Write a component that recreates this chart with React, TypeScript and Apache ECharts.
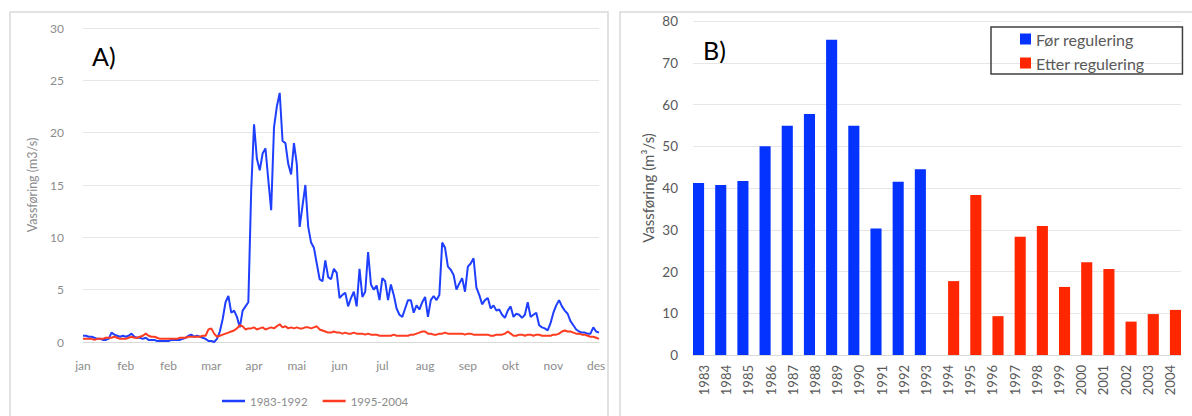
import React, { useEffect, useRef } from 'react';
import * as echarts from 'echarts';

const FONT = 'Lato, "Open Sans", sans-serif';

// Panel A: daily mean discharge (every 2nd day), m3/s
const monthLabels = ['jan', 'feb', 'feb', 'mar', 'apr', 'mai', 'jun', 'jul', 'aug', 'sep', 'okt', 'nov', 'des'];
const flow1983to1992 = [
  0.6, 0.6, 0.5, 0.5, 0.4, 0.3, 0.3, 0.2, 0.2, 0.3,
  0.9, 0.7, 0.6, 0.5, 0.6, 0.5, 0.6, 0.8, 0.5, 0.4,
  0.4, 0.3, 0.4, 0.2, 0.2, 0.2, 0.1, 0.1, 0.1, 0.1,
  0.1, 0.2, 0.2, 0.2, 0.2, 0.3, 0.4, 0.6, 0.7, 0.5,
  0.6, 0.5, 0.4, 0.3, 0.1, 0.1, 0.0, 0.3, 1.0, 2.2,
  3.8, 4.4, 2.8, 3.0, 2.4, 1.4, 3.0, 3.4, 3.8, 14.5,
  20.8, 17.5, 16.4, 18.0, 18.5, 15.5, 12.6, 20.5, 22.5, 23.8,
  19.2, 19.0, 17.0, 16.0, 19.0, 17.0, 11.0, 13.0, 15.0, 11.0,
  9.5, 9.0, 7.5, 6.0, 5.8, 7.8, 6.2, 6.0, 7.0, 6.6,
  4.2, 4.5, 4.7, 3.4, 4.2, 4.8, 3.4, 7.0, 4.3, 4.8,
  8.6, 5.5, 5.0, 5.4, 4.0, 6.1, 5.8, 4.0, 5.5, 4.5,
  3.2, 2.6, 2.4, 3.2, 4.0, 4.0, 2.8, 3.5, 3.1, 3.8,
  4.3, 2.4, 4.0, 4.4, 4.0, 4.5, 9.5, 9.0, 7.2, 6.9,
  6.4, 5.0, 5.6, 6.1, 4.8, 7.2, 7.5, 8.0, 5.2, 4.5,
  3.6, 4.0, 4.2, 3.2, 3.5, 3.0, 3.1, 2.6, 2.3, 3.0,
  3.4, 2.4, 2.7, 2.6, 2.3, 2.6, 3.8, 2.4, 2.6, 2.8,
  1.6, 1.4, 1.3, 1.1, 1.8, 2.8, 3.5, 4.0, 3.4, 3.0,
  2.7, 2.0, 1.6, 1.2, 1.0, 0.9, 0.9, 0.8, 0.8, 1.4,
  1.0, 0.9,
];
const flow1995to2004 = [
  0.3, 0.3, 0.3, 0.3, 0.2, 0.3, 0.3, 0.3, 0.4, 0.4,
  0.4, 0.5, 0.4, 0.3, 0.3, 0.3, 0.4, 0.5, 0.4, 0.4,
  0.5, 0.6, 0.8, 0.6, 0.5, 0.5, 0.4, 0.3, 0.3, 0.3,
  0.3, 0.3, 0.3, 0.3, 0.4, 0.4, 0.4, 0.5, 0.5, 0.5,
  0.5, 0.5, 0.6, 0.6, 1.2, 1.3, 0.8, 0.5, 0.6, 0.7,
  0.8, 0.9, 1.0, 1.1, 1.3, 1.6, 1.5, 1.2, 1.3, 1.3,
  1.4, 1.2, 1.3, 1.4, 1.2, 1.3, 1.4, 1.3, 1.5, 1.7,
  1.4, 1.5, 1.3, 1.4, 1.3, 1.4, 1.3, 1.3, 1.4, 1.4,
  1.3, 1.4, 1.5, 1.2, 1.1, 1.0, 0.9, 0.9, 1.0, 0.9,
  0.9, 0.8, 0.9, 0.8, 0.8, 0.9, 0.8, 0.8, 0.8, 0.7,
  0.8, 0.7, 0.7, 0.7, 0.6, 0.6, 0.6, 0.6, 0.6, 0.7,
  0.6, 0.6, 0.6, 0.6, 0.6, 0.7, 0.7, 0.8, 0.9, 1.0,
  1.0, 0.8, 0.8, 0.7, 0.7, 0.8, 0.8, 0.9, 0.8, 0.8,
  0.8, 0.8, 0.8, 0.8, 0.7, 0.8, 0.8, 0.7, 0.7, 0.7,
  0.7, 0.7, 0.7, 0.6, 0.6, 0.7, 0.7, 0.7, 0.8, 1.0,
  0.8, 0.6, 0.6, 0.7, 0.7, 0.6, 0.7, 0.7, 0.6, 0.7,
  0.7, 0.6, 0.6, 0.6, 0.6, 0.7, 0.7, 0.8, 1.0, 1.1,
  1.0, 1.0, 0.9, 0.8, 0.8, 0.7, 0.7, 0.6, 0.5, 0.5,
  0.4, 0.3,
];
const dayIndex = flow1983to1992.map((_, i) => String(i));

// Panel B: annual maximum discharge
const years = ['1983', '1984', '1985', '1986', '1987', '1988', '1989', '1990', '1991', '1992', '1993',
  '1994', '1995', '1996', '1997', '1998', '1999', '2000', '2001', '2002', '2003', '2004'];
const beforeRegulation = [41.2, 40.7, 41.7, 50.0, 54.9, 57.7, 75.5, 54.9, 30.3, 41.5, 44.5,
  null, null, null, null, null, null, null, null, null, null, null];
const afterRegulation = [null, null, null, null, null, null, null, null, null, null, null,
  17.7, 38.3, 9.3, 28.3, 30.9, 16.3, 22.2, 20.6, 8.0, 9.8, 10.8];

const BLUE = '#0433FF';
const RED = '#FF2600';

export default function App() {
  const ref = useRef<HTMLDivElement>(null);
  useEffect(() => {
    if (!ref.current) return;
    const chart = echarts.init(ref.current, null, { renderer: 'svg' });
    const greyA = '#8c8c8c';
    const greyB = '#595959';
    chart.setOption({
      animation: false,
      backgroundColor: '#ffffff',
      textStyle: { fontFamily: FONT },
      grid: [
        { left: 83, width: 516, top: 28, height: 314, outerBoundsMode: 'none' },
        { left: 693, right: 11, top: 21, height: 334, outerBoundsMode: 'none' },
      ],
      xAxis: [
        {
          gridIndex: 0,
          type: 'category',
          data: dayIndex,
          boundaryGap: false,
          axisTick: { show: false },
          axisLine: { lineStyle: { color: '#d9d9d9', width: 1 } },
          axisLabel: {
            interval: 14,
            margin: 17,
            color: greyA,
            fontSize: 12,
            fontFamily: FONT,
            formatter: (_v: string, idx: number) => monthLabels[Math.round(idx / 15)] ?? '',
          },
        },
        {
          gridIndex: 1,
          type: 'category',
          data: years,
          axisTick: { show: false },
          axisLine: { lineStyle: { color: '#d9d9d9', width: 1 } },
          axisLabel: { rotate: 90, margin: 10, color: greyB, fontSize: 13, fontFamily: FONT, interval: 0 },
        },
      ],
      yAxis: [
        {
          gridIndex: 0,
          type: 'value',
          min: 0,
          max: 30,
          interval: 5,
          name: 'Vassføring (m3/s)',
          nameLocation: 'middle',
          nameGap: 44,
          nameTextStyle: { color: greyA, fontSize: 12.5, fontFamily: FONT },
          axisLine: { show: false },
          axisTick: { show: false },
          axisLabel: { margin: 19, color: greyA, fontSize: 12, fontFamily: FONT },
          splitLine: { lineStyle: { color: '#e6e6e6', width: 1 } },
        },
        {
          gridIndex: 1,
          type: 'value',
          min: 0,
          max: 80,
          interval: 10,
          name: 'Vassføring (m³/s)',
          nameLocation: 'middle',
          nameGap: 38,
          nameTextStyle: { color: greyB, fontSize: 15, fontFamily: FONT },
          axisLine: { show: false },
          axisTick: { show: false },
          axisLabel: { margin: 15, color: greyB, fontSize: 13.5, fontFamily: FONT },
          splitLine: { lineStyle: { color: '#e6e6e6', width: 1 } },
        },
      ],
      legend: [
        {
          data: ['1983-1992', '1995-2004'],
          left: 222,
          top: 395,
          padding: 0,
          icon: 'rect',
          itemWidth: 23,
          itemHeight: 2.5,
          itemGap: 15,
          textStyle: { color: greyA, fontSize: 11.5, fontFamily: FONT },
        },
        {
          data: ['Før regulering', 'Etter regulering'],
          orient: 'vertical',
          left: 991,
          top: 27,
          padding: [3, 38, 2, 29],
          itemWidth: 11,
          itemHeight: 11,
          itemGap: 6,
          icon: 'rect',
          borderColor: '#404040',
          borderWidth: 1.5,
          textStyle: { color: greyB, fontSize: 16, lineHeight: 18, fontFamily: FONT },
        },
      ],
      series: [
        {
          name: '1983-1992',
          type: 'line',
          xAxisIndex: 0,
          yAxisIndex: 0,
          data: flow1983to1992,
          symbol: 'none',
          lineStyle: { color: '#1F3FFF', width: 2 },
          itemStyle: { color: '#1F3FFF' },
        },
        {
          name: '1995-2004',
          type: 'line',
          xAxisIndex: 0,
          yAxisIndex: 0,
          data: flow1995to2004,
          symbol: 'none',
          lineStyle: { color: '#FF3B20', width: 2 },
          itemStyle: { color: '#FF3B20' },
        },
        {
          name: 'Før regulering',
          type: 'bar',
          xAxisIndex: 1,
          yAxisIndex: 1,
          data: beforeRegulation,
          barGap: '0%',
          barCategoryGap: '0%',
          itemStyle: { color: BLUE },
        },
        {
          name: 'Etter regulering',
          type: 'bar',
          xAxisIndex: 1,
          yAxisIndex: 1,
          data: afterRegulation,
          barGap: '0%',
          barCategoryGap: '0%',
          itemStyle: { color: RED },
        },
      ],
      graphic: [
        {
          type: 'rect',
          shape: { x: 10, y: 12, width: 598, height: 420 },
          style: { fill: 'none', stroke: '#d9d9d9', lineWidth: 1.5 },
          silent: true,
        },
        {
          type: 'rect',
          shape: { x: 620, y: 12, width: 600, height: 420 },
          style: { fill: 'none', stroke: '#d9d9d9', lineWidth: 1.5 },
          silent: true,
        },
        {
          type: 'text',
          x: 92,
          y: 43,
          style: { text: 'A)', fontSize: 25, fontFamily: FONT, fill: '#000000' },
        },
        {
          type: 'text',
          x: 703,
          y: 37,
          style: { text: 'B)', fontSize: 25, fontFamily: FONT, fill: '#000000' },
        },
      ],
    });
    return () => chart.dispose();
  }, []);
  return <div ref={ref} style={{ position: 'fixed', left: 0, top: 0, width: 1192, height: 416 }} />;
}
